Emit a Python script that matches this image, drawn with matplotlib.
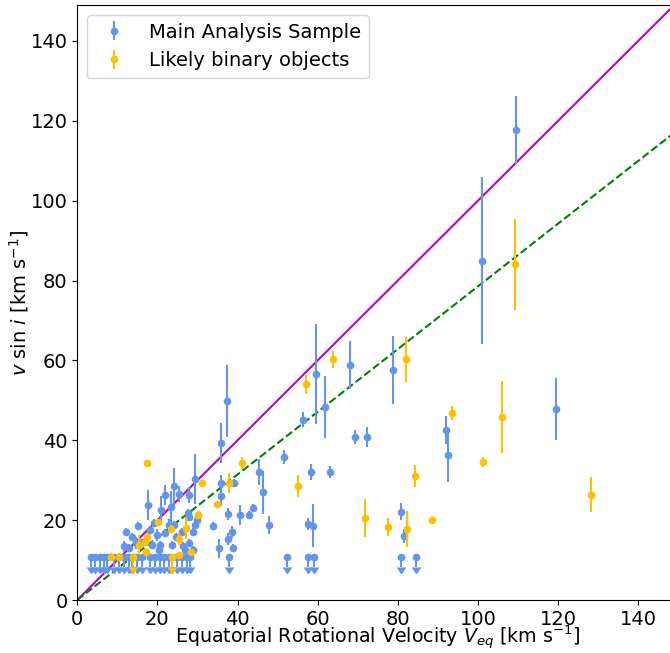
import numpy as np
import matplotlib
matplotlib.use("Agg")
import matplotlib.pyplot as plt

# Main analysis sample: detections (Veq, vsini, err)
main_x = [109.5, 101.0, 119.5, 92.0, 92.6, 80.7, 81.5, 78.9, 59.5, 61.8, 68.1, 56.3, 69.3, 72.2,
          51.7, 58.3, 63.1, 57.7, 58.8, 37.4, 35.9, 29.5, 35.9, 35.9, 39.1, 45.3, 46.4, 43.9,
          42.9, 40.6, 37.5, 47.8, 33.9, 38.5, 37.7, 38.9, 35.4, 17.6, 21.8, 24.1, 25.5, 21.0,
          23.5, 27.6, 28.0, 15.1, 12.2, 13.6, 11.6, 12.8, 14.7, 16.1, 18.2, 19.1, 19.9, 20.7,
          22.0, 23.0, 24.1, 24.6, 26.1, 27.8, 29.0, 29.4, 29.8, 30.1, 29.0, 18.6, 23.6, 20.3,
          27.0, 26.5, 27.9]
main_y = [117.8, 85.0, 47.8, 42.6, 36.3, 22.1, 16.0, 57.5, 56.5, 48.3, 58.8, 45.2, 40.8, 40.8,
          35.8, 32.0, 32.0, 19.0, 18.6, 49.8, 39.4, 30.3, 29.4, 26.0, 29.2, 32.0, 27.0, 23.0,
          21.4, 21.4, 21.6, 18.8, 18.6, 17.1, 15.3, 12.9, 12.9, 23.8, 26.2, 28.5, 26.5, 22.6,
          23.3, 21.9, 20.9, 18.5, 17.1, 15.9, 13.4, 13.0, 14.2, 14.4, 17.5, 19.2, 16.3, 13.8,
          16.7, 18.8, 18.8, 15.9, 17.1, 14.2, 17.1, 18.8, 20.0, 21.3, 12.5, 13.8, 13.8, 12.5,
          12.5, 13.5, 26.2]
main_err = [8.5, 21.0, 7.8, 3.5, 6.8, 2.1, 1.8, 8.5, 12.5, 7.8, 6.0, 2.0, 1.8, 2.5,
            1.8, 2.0, 1.5, 1.5, 5.4, 9.0, 5.0, 6.3, 2.0, 2.5, 1.0, 3.2, 5.4, 1.0,
            1.0, 2.5, 1.5, 2.3, 1.0, 1.5, 1.5, 1.0, 2.5, 3.7, 2.5, 4.5, 2.0, 3.5,
            4.0, 1.0, 1.0, 1.0, 1.0, 1.0, 1.5, 1.0, 1.5, 1.0, 1.0, 1.0, 1.5, 1.0,
            1.0, 1.5, 1.0, 1.0, 1.0, 1.0, 1.0, 1.0, 1.0, 1.0, 1.0, 1.0, 1.0, 1.0,
            1.0, 1.0, 2.0]

# Main analysis sample: upper limits
main_ul_x = [3.3, 4.5, 5.7, 6.6, 7.4, 9.1, 10.3, 11.6, 12.8, 13.7, 14.9, 16.1, 18.2, 19.5,
             20.7, 21.6, 22.8, 23.6, 24.9, 26.1, 27.4, 28.2, 37.9, 52.4, 57.7, 59.1, 80.7, 84.5]
main_ul_y = [10.8] * len(main_ul_x)
ul_err = 2.5

# Likely binary objects: detections
bin_x = [109.2, 57.2, 63.7, 82.0, 55.2, 84.3, 71.8, 77.5, 82.2, 88.6, 93.4, 106.1, 101.3, 128.1,
         41.2, 37.9, 31.0, 34.8, 30.2, 27.2, 23.3, 20.1, 25.3, 28.5, 17.5, 17.4, 16.8, 15.3,
         17.1, 8.4, 10.4, 25.3]
bin_y = [84.1, 54.0, 60.3, 60.3, 28.6, 31.0, 20.5, 18.3, 17.7, 20.0, 46.8, 45.8, 34.6, 26.4,
         34.4, 29.4, 29.2, 24.0, 21.4, 18.0, 17.7, 19.5, 15.2, 12.1, 34.4, 15.9, 14.4, 13.8,
         12.1, 10.8, 10.8, 11.3]
bin_err = [11.4, 2.3, 2.1, 5.6, 2.7, 2.8, 4.7, 2.2, 4.5, 0.5, 1.8, 9.0, 1.2, 4.4,
           1.5, 2.5, 0.5, 0.5, 1.0, 2.7, 1.0, 0.5, 1.5, 0.5, 0.5, 1.0, 1.0, 2.5,
           1.0, 1.0, 1.0, 0.5]
# Likely binary objects: upper limits
bin_ul_x = [13.8, 23.6]
bin_ul_y = [10.8, 10.8]

blue = "#6495ED"
orange = "#FFC000"

fig = plt.figure(figsize=(6.70, 6.53), dpi=100)
ax = fig.add_axes([77.3 / 670, 53 / 653, 601 / 670, 595 / 653])

line = np.array([0, 150])
ax.plot(line, line, color="m", lw=1.5, zorder=1)
ax.plot(line, line * np.pi / 4, "g--", lw=1.5, zorder=1)

ms = 4.5
ax.errorbar(main_x, main_y, yerr=main_err, fmt="o", color=blue, ms=ms, elinewidth=1.5,
            label="Main Analysis Sample", zorder=2)
ax.errorbar(main_ul_x, main_ul_y, yerr=ul_err, uplims=True, fmt="o", color=blue, ms=ms,
            elinewidth=1.5, zorder=2)
ax.errorbar(bin_x, bin_y, yerr=bin_err, fmt="o", color=orange, ms=ms, elinewidth=1.5,
            label="Likely binary objects", zorder=3)
ax.errorbar(bin_ul_x, bin_ul_y, yerr=ul_err, uplims=True, fmt="o", color=orange, ms=ms,
            elinewidth=1.5, zorder=3)

ax.set_xlim(0, 150)
ax.set_ylim(0, 149)
ax.set_xticks([0, 20, 40, 60, 80, 100, 120, 140])
ax.set_yticks([0, 20, 40, 60, 80, 100, 120, 140])
ax.tick_params(labelsize=14)
ax.set_xlabel(r"Equatorial Rotational Velocity $V_{eq}$ [km s$^{-1}$]", fontsize=13.7)
ax.xaxis.set_label_coords(0.5, -0.041)
ax.set_ylabel(r"$v$ sin $i$ [km s$^{-1}$]", fontsize=14, labelpad=0)
ax.legend(loc="upper left", fontsize=14)

fig.savefig("out.png", dpi=100)
